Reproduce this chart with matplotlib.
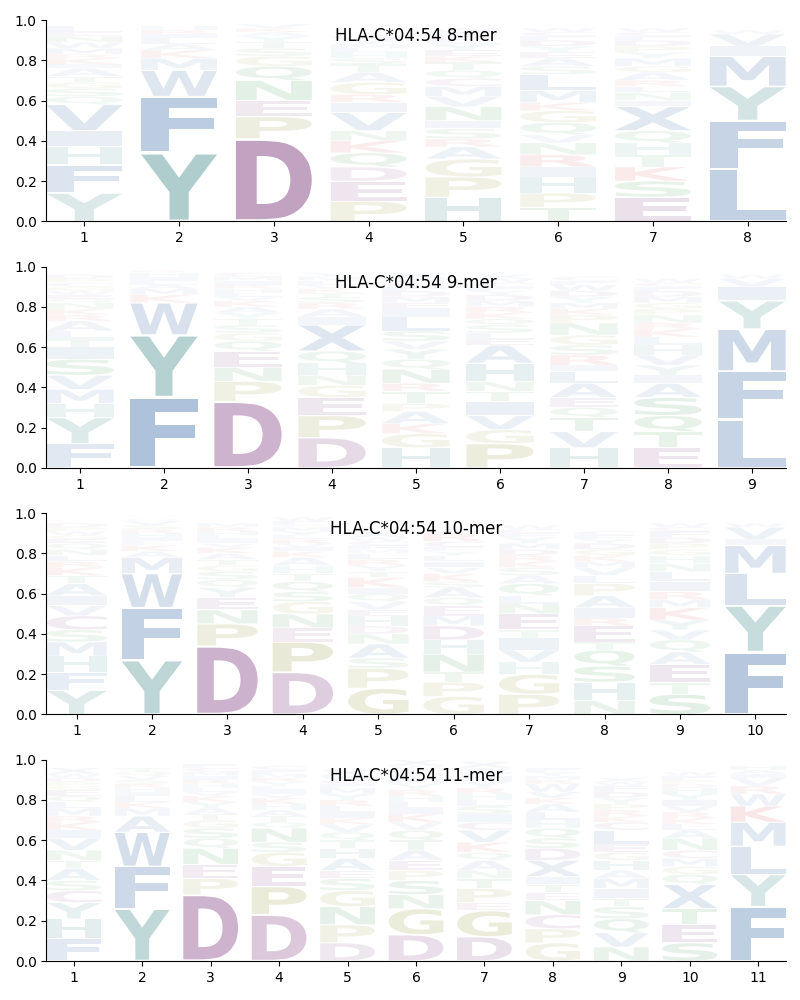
import matplotlib
matplotlib.use('Agg')
import matplotlib.pyplot as plt
from matplotlib.textpath import TextPath
from matplotlib.font_manager import FontProperties
from matplotlib.patches import PathPatch
from matplotlib.transforms import Affine2D

allele = "HLA-C*04:54"

# letters listed bottom -> top for each position, heights are frequencies
mer8_letters = [
    "YFHIVQSGTAIKRMWNEL",
    "YFWMKALIRH",
    "DPENQGSTYAKV",
    "PEDQKNVIRGATSHLMYW",
    "HPGARSINVMCQTKEYLDFW",
    "TPHIRNVQGKMLSAEYDFCW",
    "ESKTHQXINLRAGMYPDFCW",
    "LFYMIVW",
]
mer8_heights = [
    [.14, .14, .09, .08, .13, .04, .04, .03, .03, .04, .02, .03, .02, .03, .03, .03, .02, .03],
    [.34, .28, .13, .06, .04, .03, .03, .02, .02, .02],
    [.41, .11, .08, .10, .07, .05, .04, .03, .03, .02, .02, .02],
    [.10, .10, .07, .07, .06, .05, .09, .05, .04, .06, .05, .04, .03, .03, .02, .02, .02, .02],
    [.12, .10, .09, .06, .04, .05, .04, .07, .05, .05, .04, .04, .04, .03, .03, .03, .02, .02, .02, .02],
    [.07, .07, .08, .05, .06, .06, .04, .06, .06, .04, .06, .08, .04, .04, .03, .03, .03, .02, .02, .02],
    [.12, .08, .07, .06, .06, .06, .12, .03, .04, .03, .03, .04, .03, .04, .03, .03, .03, .02, .02, .02],
    [.26, .24, .17, .15, .05, .06, .02],
]

mer9_letters = [
    "FYHMVSITLARKNQEWGCPD",
    "FYWKMALIHR",
    "DPNEQGSTYAKVLHRIMC",
    "DPEGNHQXIARSTKVLMY",
    "HGKAPTRNQYVSLIEMDFCWX",
    "PGVITNHAELSQKRMDYFCWX",
    "HVTQEALIRSGNPKMYDWFC",
    "ETQSAIYVHLKRNPGMDFCW",
    "LFMYIVW",
]
mer9_heights = [
    [.12, .13, .07, .07, .07, .08, .06, .04, .04, .05, .03, .03, .03, .02, .02, .02, .02, .02, .02, .02],
    [.35, .31, .16, .04, .03, .02, .02, .02, .02, .01],
    [.33, .10, .07, .08, .05, .04, .04, .03, .03, .03, .03, .02, .02, .02, .02, .02, .02, .02],
    [.15, .11, .09, .06, .05, .06, .06, .13, .04, .04, .03, .03, .02, .02, .02, .02, .02, .02],
    [.10, .07, .05, .06, .04, .06, .04, .07, .05, .05, .04, .05, .07, .04, .03, .03, .03, .02, .02, .02, .03],
    [.12, .07, .07, .07, .05, .05, .09, .09, .03, .03, .04, .03, .03, .03, .03, .03, .02, .02, .02, .02, .02],
    [.10, .08, .07, .05, .05, .07, .06, .03, .05, .05, .05, .06, .04, .03, .03, .03, .03, .03, .02, .02],
    [.10, .08, .08, .09, .07, .04, .05, .05, .05, .04, .04, .03, .04, .03, .03, .03, .03, .02, .02, .02],
    [.24, .24, .21, .14, .07, .04, .02],
]

mer10_letters = [
    "YFHMSCVIATKRLNQEGWPD",
    "YFWMAKLIHRSVQ",
    "DPNEYQSGTAKVILHRM",
    "DPENGSQTHAKIVRLYMCFW",
    "GPSANDHEVQIKTYRLMFCWX",
    "GPTNHDMEQASKVILYFCRW",
    "PGHVITENLQASKRDMYFCW",
    "NHSQTERIAPLVMKGDYFC",
    "STEAQVYKMRILNHGPDFCW",
    "FYLMIVW",
]
mer10_heights = [
    [.12, .09, .08, .07, .06, .07, .05, .05, .06, .04, .04, .03, .03, .03, .03, .02, .02, .02, .02, .02],
    [.27, .26, .17, .08, .03, .03, .02, .02, .02, .02, .02, .02, .01],
    [.34, .11, .07, .06, .05, .04, .04, .03, .03, .03, .03, .02, .02, .02, .02, .02, .02],
    [.21, .15, .07, .07, .06, .05, .05, .04, .04, .04, .03, .02, .02, .02, .02, .02, .02, .01, .02, .02],
    [.13, .10, .05, .07, .05, .04, .05, .03, .04, .04, .03, .05, .03, .03, .03, .03, .02, .02, .02, .02, .03],
    [.09, .07, .05, .09, .07, .07, .05, .05, .04, .05, .03, .04, .03, .03, .03, .02, .02, .03, .04, .02],
    [.10, .10, .06, .06, .06, .04, .08, .05, .04, .06, .04, .04, .03, .03, .03, .03, .03, .02, .02, .02],
    [.07, .09, .08, .08, .04, .08, .04, .05, .06, .06, .04, .04, .03, .03, .03, .03, .02, .02, .02],
    [.10, .06, .09, .06, .06, .05, .05, .06, .04, .04, .05, .05, .04, .04, .03, .03, .03, .03, .02, .02],
    [.31, .23, .16, .14, .03, .06, .02],
]

mer11_letters = [
    "FHYCSATNVIKRMLQEGPDWX",
    "YFWAMKLIHRSVQT",
    "DPENQSGTAYKVLHRIMCF",
    "DPEGSNQTAHKVILYRMFC",
    "DPNGSEAHTQVKILRYMFCWX",
    "DGNSPEATQVKILHRYMFCWX",
    "DGEPTNAQKVCISLHRYMFWX",
    "GPCNETIXDSQHLAKVWRMYF",
    "NVQSTIMAHGELCKRPYDFWX",
    "SETXQGMCNALKRVIYHDPFW",
    "FYLMKWRVIAH",
]
mer11_heights = [
    [.11, .10, .08, .06, .05, .06, .04, .05, .06, .04, .04, .03, .04, .03, .03, .03, .02, .02, .02, .02, .03],
    [.26, .21, .17, .08, .04, .03, .03, .02, .02, .02, .02, .02, .02, .02],
    [.33, .08, .07, .08, .05, .05, .04, .03, .03, .03, .03, .02, .02, .02, .02, .02, .02, .02, .02],
    [.23, .14, .10, .07, .05, .07, .03, .03, .03, .03, .03, .02, .02, .02, .02, .02, .02, .02, .02],
    [.09, .09, .09, .08, .06, .04, .06, .05, .04, .04, .04, .03, .03, .03, .03, .03, .03, .02, .02, .02, .03],
    [.13, .13, .07, .07, .05, .05, .05, .05, .05, .04, .04, .03, .03, .03, .03, .03, .03, .02, .02, .02, .03],
    [.12, .13, .04, .07, .05, .04, .05, .04, .05, .06, .04, .04, .04, .03, .03, .03, .03, .03, .02, .02, .03],
    [.09, .07, .07, .07, .04, .04, .04, .08, .06, .05, .05, .04, .04, .04, .03, .03, .04, .02, .02, .02, .02],
    [.07, .07, .07, .06, .04, .05, .05, .04, .05, .04, .04, .07, .04, .03, .03, .03, .03, .03, .03, .02, .02],
    [.09, .09, .08, .12, .05, .04, .04, .04, .06, .04, .03, .03, .03, .03, .03, .03, .03, .02, .02, .02, .02],
    [.27, .16, .14, .12, .08, .06, .04, .04, .02, .02, .02],
]

# colour groups
blue = (0.22, 0.41, 0.65)
teal = (0.20, 0.50, 0.50)
purple = (0.49, 0.23, 0.49)
olive = (0.55, 0.55, 0.16)
red = (0.80, 0.16, 0.16)
green = (0.16, 0.55, 0.24)
colors = {}
for c in "AFILMVWX":
    colors[c] = blue
for c in "YH":
    colors[c] = teal
for c in "DEC":
    colors[c] = purple
for c in "PG":
    colors[c] = olive
for c in "KR":
    colors[c] = red
for c in "NQST":
    colors[c] = green

font = FontProperties(family='DejaVu Sans', weight='bold')
glyphs = {}


def draw_letter(ax, c, x, y0, h, width=0.8, vpad=0.05):
    if c not in glyphs:
        glyphs[c] = TextPath((0, 0), c, size=1, prop=font)
    path = glyphs[c]
    ext = path.get_extents()
    hh = h * (1 - vpad)
    t = Affine2D().translate(-ext.x0, -ext.y0) \
        .scale(width / ext.width, hh / ext.height) \
        .translate(x - width / 2, y0 + h * vpad / 2)
    p = PathPatch(t.transform_path(path), facecolor=colors[c], edgecolor='none',
                  alpha=min(1.0, 1.1 * h + 0.02))
    ax.add_patch(p)


panels = [
    ("8-mer", mer8_letters, mer8_heights),
    ("9-mer", mer9_letters, mer9_heights),
    ("10-mer", mer10_letters, mer10_heights),
    ("11-mer", mer11_letters, mer11_heights),
]

fig, axes = plt.subplots(4, 1, figsize=(8, 10), dpi=100)
fig.subplots_adjust(left=0.058, right=0.982, top=0.98, bottom=0.039, hspace=0.225)

for ax, (name, letters, heights) in zip(axes, panels):
    n = len(letters)
    for i in range(n):
        y = 0
        for c, h in zip(letters[i], heights[i]):
            draw_letter(ax, c, i + 1, y, h)
            y += h
    ax.set_xlim(0.6, n + 0.4)
    ax.set_ylim(0, 1)
    ax.set_xticks(range(1, n + 1))
    ax.set_yticks([0, 0.2, 0.4, 0.6, 0.8, 1.0])
    ax.spines['top'].set_visible(False)
    ax.spines['right'].set_visible(False)
    ax.text(0.5, 0.92, allele + " " + name, transform=ax.transAxes,
            ha='center', va='center', fontsize=12, zorder=10)

fig.savefig("out.png")
